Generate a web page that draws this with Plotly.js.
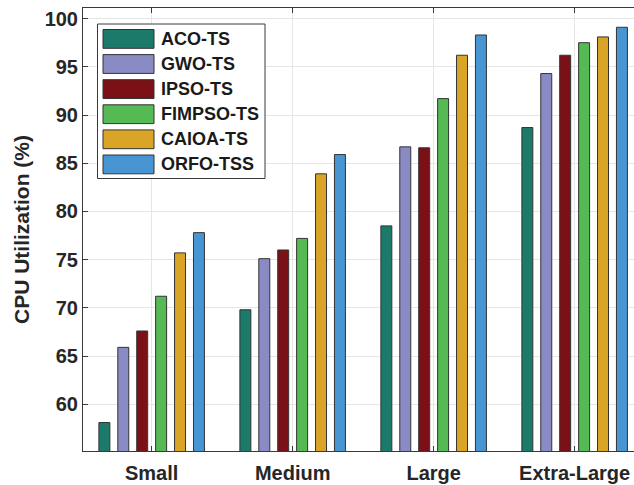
<!DOCTYPE html>
<html>
<head>
<meta charset="utf-8">
<script src="https://cdn.plot.ly/plotly-3.0.1.min.js"></script>
<style>html,body{margin:0;padding:0;background:#fff;}#chart{width:634px;height:485px;}</style>
</head>
<body>
<div id="chart"></div>
<script>
const categories = ["Small", "Medium", "Large", "Extra-Large"];
const seriesNames = ["ACO-TS", "GWO-TS", "IPSO-TS", "FIMPSO-TS", "CAIOA-TS", "ORFO-TSS"];
const acoTS    = [58.1, 69.8, 78.5, 88.7];
const gwoTS    = [65.9, 75.1, 86.7, 94.3];
const ipsoTS   = [67.6, 76.0, 86.6, 96.2];
const fimpsoTS = [71.2, 77.2, 91.7, 97.5];
const caioaTS  = [75.7, 83.9, 96.2, 98.1];
const orfoTSS  = [77.8, 85.9, 98.3, 99.1];
const yTicks = [60, 65, 70, 75, 80, 85, 90, 95, 100];

const colors = ["#1c7a6a", "#8a8bc5", "#7b1116", "#55ba53", "#daa526", "#4796d3"];
const seriesValues = [acoTS, gwoTS, ipsoTS, fimpsoTS, caioaTS, orfoTSS];

const W = 634, H = 485;
const M = {l: 83, r: 0, t: 8, b: 34};
const FONT = '"Liberation Sans", Arial, Helvetica, sans-serif';

const traces = seriesNames.map((name, i) => ({
  type: 'bar',
  name: name,
  x: categories,
  y: seriesValues[i],
  marker: {color: colors[i], line: {color: '#333333', width: 1}},
  showlegend: false,
  hoverinfo: 'x+y+name'
}));

// custom legend (MATLAB-style wide swatches), placed in pixel terms then converted to paper coords
const plotW = W - M.l - M.r, plotH = H - M.t - M.b;
const px = x => (x - M.l) / plotW;
const py = y => (H - M.b - y) / plotH;
const shapes = [];
const annotations = [];
shapes.push({type: 'rect', xref: 'paper', yref: 'paper',
  x0: px(97.5), x1: px(265), y0: py(178.5), y1: py(24),
  fillcolor: '#ffffff', line: {color: '#3a3a3a', width: 1}, layer: 'above'});
seriesNames.forEach((name, i) => {
  const top = 29.5 + i * 25.1, bot = top + 18.8;
  shapes.push({type: 'rect', xref: 'paper', yref: 'paper',
    x0: px(103), x1: px(154), y0: py(bot), y1: py(top),
    fillcolor: colors[i], line: {color: '#333333', width: 1}, layer: 'above'});
  annotations.push({xref: 'paper', yref: 'paper', x: px(158.5), y: py((top + bot) / 2),
    xanchor: 'left', yanchor: 'middle', showarrow: false, text: name,
    font: {family: FONT, size: 18, color: '#1a1a1a', weight: 'bold'}});
});

const layout = {
  width: W, height: H,
  margin: M,
  paper_bgcolor: '#ffffff', plot_bgcolor: '#ffffff',
  font: {family: FONT, size: 20, color: '#262626', weight: 'bold'},
  barmode: 'group',
  bargap: 0.195,
  bargroupgap: 0.42,
  xaxis: {
    type: 'category',
    range: [-0.487, 3.421],
    showgrid: true, gridcolor: '#e6e6e6', gridwidth: 1,
    showline: true, linecolor: '#3a3a3a', linewidth: 1,
    mirror: 'ticks',
    ticks: 'inside', ticklen: 5, tickcolor: '#3a3a3a',
    ticklabelstandoff: 4,
    tickfont: {family: FONT, size: 20, color: '#262626', weight: 'bold'},
    zeroline: false, fixedrange: true
  },
  yaxis: {
    range: [55.15, 101.1],
    tickvals: yTicks,
    showgrid: true, gridcolor: '#e6e6e6', gridwidth: 1,
    showline: true, linecolor: '#3a3a3a', linewidth: 1,
    mirror: false,
    ticks: 'inside', ticklen: 5, tickcolor: '#3a3a3a',
    tickfont: {family: FONT, size: 20, color: '#262626', weight: 'bold'},
    title: {text: 'CPU Utilization (%)', font: {family: FONT, size: 21, color: '#262626', weight: 'bold'}, standoff: 9},
    zeroline: false, fixedrange: true
  },
  shapes: shapes,
  annotations: annotations
};

Plotly.newPlot('chart', traces, layout, {displayModeBar: false, staticPlot: true});
</script>
</body>
</html>
